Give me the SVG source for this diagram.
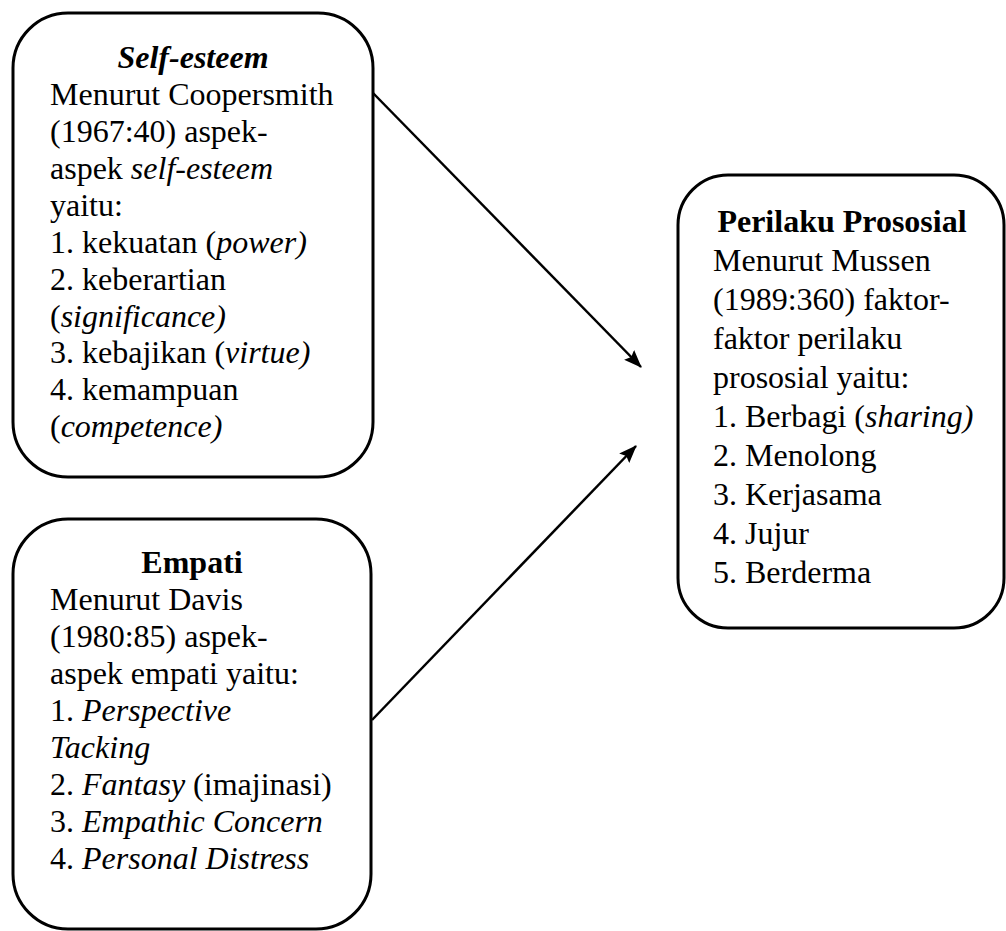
<svg xmlns="http://www.w3.org/2000/svg" width="1006" height="931" viewBox="0 0 1006 931">
<style>
.box{fill:#fff;stroke:#000;stroke-width:3}
.b{font-weight:bold}
.i{font-style:italic}
.c{text-anchor:middle}
.conn{stroke:#000;stroke-width:2.5;fill:none}
</style>
<defs>
<marker id="ah" markerUnits="userSpaceOnUse" markerWidth="20" markerHeight="16" refX="17" refY="7" orient="auto">
<path d="M0,0 L18,7 L0,14 L3,7 Z" fill="#000"/>
</marker>
</defs>
<rect width="1006" height="931" fill="#fff"/>
<g id="connectors">
<line class="conn" x1="373" y1="93" x2="641" y2="367" marker-end="url(#ah)"/>
<line class="conn" x1="372" y1="720" x2="636" y2="446" marker-end="url(#ah)"/>
</g>
<g id="self-esteem" font-family="Liberation Serif, serif" font-size="32" fill="#000">
<rect class="box" x="13" y="13" width="360" height="464" rx="55" ry="55"/>
<text class="b i c" x="193" y="68">Self-esteem</text>
<text x="50" y="105">Menurut Coopersmith</text>
<text x="50" y="142">(1967:40) aspek-</text>
<text x="50" y="179">aspek <tspan class="i">self-esteem</tspan></text>
<text x="50" y="216">yaitu:</text>
<text x="50" y="253">1. kekuatan (<tspan class="i">power)</tspan></text>
<text x="50" y="290">2. keberartian</text>
<text x="50" y="327">(<tspan class="i">significance)</tspan></text>
<text x="50" y="363">3. kebajikan (<tspan class="i">virtue)</tspan></text>
<text x="50" y="400">4. kemampuan</text>
<text x="50" y="437">(<tspan class="i">competence)</tspan></text>
</g>
<g id="empati" font-family="Liberation Serif, serif" font-size="32" fill="#000">
<rect class="box" x="13" y="519" width="358" height="410" rx="55" ry="55"/>
<text class="b c" x="192" y="573">Empati</text>
<text x="50" y="610">Menurut Davis</text>
<text x="50" y="647">(1980:85) aspek-</text>
<text x="50" y="684">aspek empati yaitu:</text>
<text x="50" y="721">1. <tspan class="i">Perspective</tspan></text>
<text x="50" y="758" class="i">Tacking</text>
<text x="50" y="795">2. <tspan class="i">Fantasy</tspan> (imajinasi)</text>
<text x="50" y="832">3. <tspan class="i">Empathic Concern</tspan></text>
<text x="50" y="869">4. <tspan class="i">Personal Distress</tspan></text>
</g>
<g id="prososial" font-family="Liberation Serif, serif" font-size="32" fill="#000">
<rect class="box" x="678" y="175" width="326" height="453" rx="50" ry="50"/>
<text class="b c" x="842" y="232">Perilaku Prososial</text>
<text x="713" y="271">Menurut Mussen</text>
<text x="713" y="310">(1989:360) faktor-</text>
<text x="713" y="349">faktor perilaku</text>
<text x="713" y="388">prososial yaitu:</text>
<text x="713" y="427">1. Berbagi (<tspan class="i">sharing)</tspan></text>
<text x="713" y="466">2. Menolong</text>
<text x="713" y="505">3. Kerjasama</text>
<text x="713" y="544">4. Jujur</text>
<text x="713" y="583">5. Berderma</text>
</g>
</svg>
